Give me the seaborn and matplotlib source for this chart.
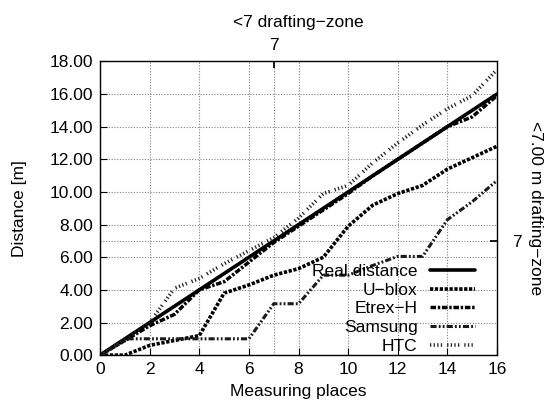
import matplotlib
matplotlib.use("Agg")
import matplotlib.pyplot as plt
import seaborn as sns
import numpy as np

# measured distances per measuring place
places = list(range(17))
real_distance = [0, 1, 2, 3, 4, 5, 6, 7, 8, 9, 10, 11, 12, 13, 14, 15, 16]
ublox = [0, 0, 0.6, 0.9, 1.2, 3.8, 4.3, 4.9, 5.3, 6.0, 7.9, 9.2, 9.9, 10.4, 11.4, 12.1, 12.8]
etrex = [0, 0.9, 1.8, 2.5, 4.0, 4.5, 5.7, 6.9, 7.9, 8.9, 9.9, 11.0, 12.0, 13.0, 14.0, 14.6, 15.9]
samsung = [0, 1.0, 1.0, 1.0, 1.0, 1.0, 1.0, 3.15, 3.15, 4.9, 4.9, 5.5, 6.05, 6.05, 8.3, 9.4, 10.7]
htc = [0, 0.9, 2.0, 4.1, 4.7, 5.6, 6.4, 7.2, 8.4, 9.9, 10.4, 11.8, 13.0, 14.1, 15.1, 15.9, 17.5]

x_ticks = [0, 2, 4, 6, 8, 10, 12, 14, 16]
y_ticks = [0, 2, 4, 6, 8, 10, 12, 14, 16, 18]
zone_x = [7]
zone_y = [7]

FS = 12.5

sns.set_theme(style="white")
plt.rcParams['font.family'] = ['Liberation Sans', 'DejaVu Sans']
plt.rcParams['font.size'] = FS
plt.rcParams['text.color'] = 'black'
plt.rcParams['axes.labelcolor'] = 'black'
plt.rcParams['xtick.color'] = 'black'
plt.rcParams['ytick.color'] = 'black'
plt.rcParams['axes.unicode_minus'] = True

fig, ax = plt.subplots(figsize=(5.44, 4.12), dpi=100)
fig.subplots_adjust(left=0.184, right=0.9136, top=0.851, bottom=0.138)

series = [
    ("Real distance", real_distance, dict(lw=2.6, linestyle="-")),
    ("U\u2212blox", ublox, dict(lw=2.6, linestyle=(0, (0.9, 0.45)))),
    ("Etrex\u2212H", etrex, dict(lw=2.5, linestyle=(0, (1.6, 0.5, 0.7, 0.5)))),
    ("Samsung", samsung, dict(lw=2.2, linestyle=(0, (2.0, 0.7, 0.6, 0.7, 0.6, 0.7)), color="#1a1a1a")),
    ("HTC", htc, dict(lw=2.6, linestyle=(0, (0.35, 0.65, 0.35, 0.65, 0.35, 0.65, 0.35, 1.4)), color="#222222")),
]

for name, vals, kw in series:
    color = kw.pop("color", "black")
    sns.lineplot(x=places, y=vals, ax=ax, color=color, label=name, **kw)

grid_kw = dict(color="0.5", linestyle=(0, (1, 1.5)), lw=0.8, zorder=0)
ax.set_xlim(0, 16)
ax.set_ylim(0, 18)
ax.set_xticks(x_ticks)
ax.set_yticks(y_ticks)
ax.set_yticklabels([f"{v:.2f}" for v in y_ticks])
ax.grid(True, **{k: v for k, v in grid_kw.items() if k != "zorder"})
ax.set_axisbelow(True)
for v in zone_x:
    ax.axvline(v, **grid_kw)
for v in zone_y:
    ax.axhline(v, **grid_kw)

ax.tick_params(direction="in", length=5, width=0.8, top=True, right=True, pad=5, labelsize=FS)
for s in ax.spines.values():
    s.set_linewidth(1.0)
    s.set_color("black")

ax.set_xlabel("Measuring places", fontsize=FS, labelpad=5)
ax.set_ylabel("Distance [m]", fontsize=FS, labelpad=16)

# top axis: drafting zone
ax_top = ax.twiny()
ax_top.set_xlim(ax.get_xlim())
ax_top.set_xticks(zone_x)
ax_top.set_xticklabels([str(v) for v in zone_x])
ax_top.tick_params(direction="in", length=5, pad=6, labelsize=FS)
ax_top.set_xlabel("<7 drafting\u2212zone", fontsize=FS, labelpad=8)

# right axis: drafting zone
ax_right = ax.twinx()
ax_right.set_ylim(ax.get_ylim())
ax_right.set_yticks(zone_y)
ax_right.set_yticklabels([str(v) for v in zone_y])
ax_right.tick_params(direction="in", length=5, pad=11, labelsize=FS)
ax_right.set_ylabel("<7.00 m drafting\u2212zone", fontsize=FS, rotation=270, labelpad=15)
for a in (ax_top, ax_right):
    for s in a.spines.values():
        s.set_visible(False)

ax.legend(loc="lower right", bbox_to_anchor=(0.944, 0.005), frameon=False,
          markerfirst=False, borderpad=0, borderaxespad=0, handlelength=2.6,
          handletextpad=0.7, labelspacing=0.2, fontsize=FS)

fig.savefig("out.png", dpi=100)
